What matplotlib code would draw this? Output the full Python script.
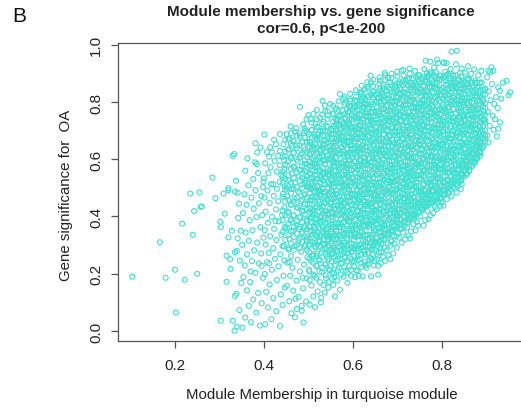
import numpy as np
import matplotlib.pyplot as plt

plt.rcParams['font.family'] = ['Liberation Sans', 'DejaVu Sans']

# module membership / gene significance pairs, in thousandths ("mm gs")
pts_left = """
104 190, 166 310, 179 186, 200 214, 202 065, 222 179, 250 200, 216 375, 240 336,
234 480, 255 484, 243 419, 258 433, 291 464, 284 536, 260 435
"""

pts_030 = """
309 480, 320 492, 337 525, 302 382, 303 363, 316 172, 303 036, 330 036, 339 015,
334 001, 335 123, 338 130, 345 073, 325 217, 324 251, 320 327, 328 350, 348 350,
341 324, 339 280, 335 275, 346 246, 349 168, 333 618, 330 612, 320 499, 335 487,
316 263, 341 483, 312 410, 344 445, 342 395
"""

pts_035 = """
352 012, 358 047, 371 031, 366 088, 383 064, 391 019, 376 110, 362 142, 387 133,
395 097, 354 188, 369 171, 381 203, 398 186, 357 229, 373 244, 389 236, 362 268,
378 282, 394 271, 351 301, 366 315, 385 309, 399 326, 359 344, 374 352, 392 363,
368 387, 383 398, 353 412, 396 405, 377 427, 361 441, 389 446, 372 466, 356 478,
394 471, 381 492, 365 509, 398 503, 376 531, 387 552, 358 560, 380 589, 384 583,
381 656, 385 624, 363 603, 392 641, 399 522, 370 208, 395 228
"""

pts_040 = """
403 024, 417 041, 436 018, 428 069, 409 082, 442 091, 421 115, 405 137, 438 128,
447 152, 413 163, 429 178, 402 199, 444 193, 418 214, 433 226, 407 241, 425 252,
446 247, 411 273, 437 268, 421 289, 404 302, 445 296, 428 318, 414 331, 439 336,
402 352, 423 357, 447 364, 409 378, 433 383, 418 399, 441 404, 404 417, 427 425,
446 432, 413 447, 432 453, 401 466, 422 472, 443 479, 408 491, 429 497, 447 506,
416 513, 435 521, 400 533, 421 513, 442 538, 410 551, 429 557, 446 563, 415 572,
436 579, 403 586, 424 594, 445 598, 412 609, 432 612, 447 612, 418 624, 414 642,
436 630, 427 653, 444 653, 436 688, 401 686, 423 668, 407 625, 439 545, 426 384,
412 236
"""

pts_045 = """
470 048, 474 077, 485 088, 485 071, 489 030, 462 062, 457 104, 478 119, 495 103,
466 141, 452 158, 488 149, 473 176, 459 193, 496 184, 481 208, 464 221, 453 239,
490 232, 476 249, 461 262, 498 258, 484 277, 456 284, 469 296, 493 301, 478 314,
458 322, 497 327, 485 341, 466 349, 452 358, 491 362, 474 371, 460 386, 497 385,
482 397, 467 404, 455 417, 489 419, 476 431, 461 441, 498 443, 484 454, 469 462,
453 471, 493 478, 477 487, 462 496, 499 502, 486 511, 470 519, 455 527, 491 533,
478 541, 463 549, 497 556, 484 563, 468 571, 453 578, 492 584, 476 592, 461 603,
498 607, 483 616, 467 623, 454 634, 489 641, 474 648, 466 665, 463 647, 496 662,
482 675, 470 696, 481 682, 493 699, 460 715, 488 722, 496 740, 500 754, 481 783,
451 688, 472 709, 457 671, 494 526, 451 498, 479 356, 458 241, 487 186, 471 113
"""

pts_050 = """
515 083, 528 100, 537 135, 534 161, 503 092, 511 121, 521 138, 545 152, 507 159,
526 171, 540 184, 514 193, 502 208, 531 206, 548 213, 518 227, 537 233, 506 246,
524 251, 543 259, 511 268, 530 274, 549 283, 516 291, 501 297, 535 302, 522 313,
546 318, 508 327, 527 336, 541 341, 514 352, 533 359, 502 366, 548 371, 519 379,
537 388, 506 394, 525 401, 544 406, 512 417, 531 422, 549 429, 517 436, 503 445,
536 447, 522 457, 541 462, 509 469, 528 474, 547 483, 514 489, 533 496, 502 503,
521 508, 545 514, 509 522, 527 529, 539 536, 516 543, 504 551, 533 556, 548 561,
521 569, 507 576, 538 582, 525 589, 512 596, 546 601, 531 609, 503 614, 518 621,
540 627, 527 634, 511 642, 549 646, 534 653, 505 659, 520 667, 543 672, 528 679,
513 686, 547 691, 532 698, 508 703, 523 711, 541 717, 516 724, 534 731, 511 758,
532 804, 537 787, 549 793, 526 745, 544 752, 519 772, 505 741, 538 768, 501 687,
546 545, 524 486, 509 409, 542 334, 518 262, 503 178, 529 116
"""

pts_055 = """
560 121, 556 161, 553 182, 571 144, 588 168, 565 177, 579 189, 596 193, 558 202,
584 211, 569 219, 551 227, 592 226, 576 238, 561 246, 599 244, 583 255, 567 262,
554 271, 590 272, 574 281, 559 289, 597 291, 581 299, 566 306, 552 314, 588 317,
573 323, 557 331, 595 334, 579 341, 563 349, 551 356, 586 357, 571 364, 598 369,
555 373, 578 379, 592 386, 562 392, 584 398, 569 405, 553 411, 597 413, 576 419,
559 426, 589 431, 566 437, 581 443, 552 449, 594 452, 573 459, 558 466, 587 469,
564 476, 599 479, 578 485, 553 492, 591 496, 569 503, 583 509, 556 516, 597 518,
574 525, 561 532, 589 538, 567 545, 552 551, 584 556, 596 563, 571 567, 558 574,
587 579, 576 586, 554 592, 593 597, 563 604, 581 609, 598 617, 570 621, 556 628,
588 633, 575 640, 561 647, 594 651, 580 658, 566 664, 553 671, 591 676, 577 683,
562 689, 599 694, 585 701, 571 707, 557 714, 592 719, 578 726, 564 733, 597 739,
583 745, 569 752, 555 760, 590 764, 576 771, 562 778, 594 786, 571 828, 579 810,
594 810, 582 797, 566 741, 588 612, 573 431, 557 587, 598 351
"""

pts_060 = """
605 188, 613 193, 622 191, 641 191, 616 251, 627 269, 639 257, 608 212, 631 221,
647 229, 619 236, 603 243, 636 247, 611 262, 644 268, 624 281, 606 287, 638 293,
617 301, 649 304, 629 312, 602 318, 643 324, 614 331, 633 337, 621 346, 648 351,
607 356, 637 362, 625 369, 612 377, 645 381, 631 387, 618 394, 603 399, 640 404,
627 411, 611 416, 649 421, 634 427, 619 433, 606 440, 642 444, 626 451, 614 456,
647 461, 632 467, 603 472, 620 478, 639 483, 609 489, 626 494, 645 499, 615 505,
631 511, 604 516, 648 520, 622 526, 637 532, 611 538, 628 543, 644 549, 606 554,
619 560, 634 566, 649 571, 612 576, 627 582, 641 588, 603 593, 618 599, 636 604,
646 610, 609 615, 624 621, 639 627, 615 633, 601 638, 631 643, 647 648, 613 654,
627 660, 642 665, 606 671, 621 677, 637 682, 648 688, 611 693, 625 699, 640 704,
604 710, 618 716, 633 721, 646 727, 610 733, 623 738, 638 744, 602 750, 616 755,
631 761, 645 766, 609 772, 624 778, 637 783, 614 789, 628 795, 643 800, 607 806,
621 812, 635 817, 648 823, 616 834, 627 845, 640 892, 641 869, 633 853, 646 838,
619 827, 603 781, 642 735, 626 590, 612 458, 638 375, 605 338, 644 285, 629 229
"""

pts_065 = """
657 197, 657 228, 654 251, 684 251, 680 265, 699 292, 684 298, 663 238, 672 245,
691 271, 668 259, 659 273, 676 281, 694 305, 662 289, 687 312, 671 318, 655 327,
698 331, 680 336, 664 343, 689 349, 673 356, 657 362, 696 366, 682 372, 666 378,
651 385, 691 389, 675 395, 660 401, 699 405, 684 411, 668 417, 653 423, 693 427,
678 433, 662 439, 688 444, 671 450, 656 456, 697 460, 681 466, 665 472, 650 478,
690 482, 674 488, 659 494, 699 498, 683 504, 667 510, 652 516, 692 520, 677 526,
661 532, 686 537, 670 543, 655 549, 695 553, 679 559, 664 565, 689 570, 673 576,
658 582, 698 586, 682 592, 667 598, 652 604, 692 608, 676 614, 661 620, 685 625,
670 631, 655 637, 696 641, 680 647, 665 653, 690 658, 674 664, 659 670, 699 674,
683 680, 668 686, 653 692, 693 696, 677 702, 662 708, 687 713, 671 719, 656 725,
696 729, 681 735, 666 741, 690 746, 675 752, 660 758, 699 762, 684 768, 669 774,
654 780, 694 784, 678 790, 663 796, 688 801, 672 807, 657 813, 697 817, 681 823,
666 829, 691 834, 676 840, 661 846, 684 869, 661 874, 672 901, 669 858, 695 852,
679 884, 688 578, 663 448, 694 415, 671 369, 657 305, 686 522
"""

pts_070 = """
729 324, 725 333, 736 374, 747 368, 710 309, 718 321, 704 326, 741 352, 713 344,
731 348, 706 358, 722 362, 744 381, 709 373, 727 386, 738 391, 715 397, 701 402,
732 408, 748 413, 719 419, 705 424, 737 430, 724 436, 711 441, 745 446, 730 452,
716 458, 702 463, 739 468, 725 474, 712 480, 748 485, 734 490, 720 496, 706 501,
742 506, 728 512, 714 518, 700 523, 736 528, 721 534, 708 539, 745 544, 731 550,
717 556, 703 561, 739 566, 726 572, 712 577, 748 582, 734 588, 719 594, 705 599,
741 604, 727 610, 713 615, 702 620, 737 626, 723 631, 709 636, 746 642, 732 648,
718 653, 704 658, 740 664, 725 669, 711 674, 747 680, 733 686, 720 691, 706 696,
742 702, 728 707, 714 712, 700 718, 736 723, 722 729, 709 734, 744 739, 730 745,
716 750, 703 756, 739 761, 725 766, 711 772, 748 777, 734 783, 719 788, 705 794,
741 799, 727 804, 713 810, 701 815, 737 820, 723 826, 709 832, 745 837, 731 842,
717 848, 740 868, 710 909, 740 909, 747 894, 726 884, 704 862, 733 858, 719 876,
744 853, 707 845, 729 541, 714 462, 738 405, 723 613, 746 724
"""

pts_075 = """
759 368, 770 391, 789 426, 774 404, 763 388, 781 412, 796 437, 752 401, 768 419,
785 433, 757 422, 792 450, 775 446, 761 438, 799 461, 783 457, 766 462, 751 449,
788 473, 772 477, 756 468, 795 484, 779 490, 764 494, 753 486, 790 502, 774 508,
758 512, 797 517, 782 522, 767 527, 752 533, 786 538, 771 543, 755 548, 793 552,
778 558, 762 563, 798 567, 784 573, 768 578, 753 584, 789 588, 774 594, 759 599,
795 603, 780 609, 765 614, 750 619, 786 623, 771 629, 756 634, 792 638, 777 644,
762 649, 798 653, 783 659, 768 664, 753 670, 789 674, 774 679, 759 684, 795 689,
780 694, 765 700, 751 705, 786 709, 771 715, 756 720, 792 724, 777 730, 762 735,
798 740, 783 745, 768 750, 754 756, 789 760, 774 765, 759 771, 795 776, 780 781,
765 786, 751 791, 786 796, 771 801, 756 807, 792 811, 777 817, 762 822, 798 826,
783 832, 768 837, 753 842, 789 847, 774 852, 759 858, 795 862, 780 868, 765 873,
787 904, 774 904, 764 944, 774 941, 790 948, 792 936, 785 885, 769 891, 756 879,
797 891, 761 915, 783 921, 776 609, 758 557, 791 531, 767 476, 752 650, 794 705
"""

pts_080 = """
804 438, 811 461, 834 484, 843 496, 845 513, 841 525, 800 450, 822 471, 815 482,
806 476, 829 498, 818 505, 836 509, 803 495, 824 519, 812 527, 838 538, 847 544,
808 541, 826 548, 817 556, 834 562, 802 567, 846 571, 823 577, 811 583, 839 589,
828 595, 805 601, 849 604, 816 608, 833 614, 821 621, 808 627, 844 630, 826 636,
813 642, 837 647, 801 652, 848 656, 819 661, 830 667, 807 672, 842 677, 824 683,
814 688, 836 693, 802 698, 847 702, 820 708, 831 713, 809 719, 843 723, 826 729,
815 734, 838 739, 804 745, 849 749, 821 755, 832 760, 811 765, 844 770, 827 776,
816 781, 839 786, 803 791, 848 795, 822 801, 834 806, 812 812, 845 816, 828 822,
817 827, 840 833, 806 838, 849 842, 823 848, 833 853, 810 859, 846 863, 829 869,
818 874, 837 880, 805 885, 826 891, 814 897, 841 902, 832 932, 805 936, 822 976,
834 979, 804 938, 811 936, 820 915, 845 917, 808 906, 828 856, 801 600, 819 639,
842 745
"""

pts_085 = """
867 577, 886 612, 894 647, 855 545, 862 559, 851 562, 873 588, 858 584, 879 601,
866 605, 853 598, 884 624, 871 627, 857 621, 891 639, 876 645, 862 643, 851 637,
883 661, 869 664, 855 659, 897 671, 888 678, 874 684, 860 681, 892 697, 878 702,
864 700, 852 694, 885 716, 870 720, 856 718, 898 728, 881 734, 867 739, 853 735,
890 752, 875 758, 861 756, 895 768, 882 775, 868 779, 854 773, 887 792, 872 796,
858 794, 893 808, 879 815, 864 817, 851 812, 886 830, 871 834, 857 839, 897 847,
883 852, 868 857, 854 861, 890 868, 875 874, 860 880, 882 893, 866 898, 853 903,
873 914, 859 925, 889 909, 861 852, 877 690, 895 737, 869 747, 863 632
"""

pts_090 = """
912 921, 916 909, 909 904, 946 874, 954 834, 950 824, 927 851, 931 839, 931 729,
927 706, 924 680, 920 740, 905 909, 903 683, 908 717, 915 752, 904 766, 918 793,
910 806, 922 817, 906 837, 913 863, 934 812, 926 779, 938 868, 902 886, 917 703,
905 659
"""

# dense core of the turquoise module: "mm: gs gs gs ..." (thousandths)
core_cols = """
503: 303 321 348 363 394 416 428 457 481 498 531 551 577 591 619 642 661
508: 311 336 350 380 399 422 456 469 496 517 533 562 586 604 636 651 677
515: 296 309 338 360 377 411 431 456 471 502 521 545 572 584 614 635 653 679
520: 300 331 347 371 391 404 432 467 484 506 532 546 576 595 620 641 673 688
526: 294 316 328 357 381 398 431 451 477 491 519 542 561 591 607 632 653 671 698
533: 305 318 345 366 382 411 435 453 485 500 526 548 568 596 613 638 652 682 701
538: 289 304 335 354 378 405 417 447 468 486 512 535 551 584 597 626 648 665 699
544: 297 317 330 358 393 410 432 458 472 502 521 546 567 599 614 641 659 682 713
551: 286 306 332 346 374 397 416 446 462 487 508 526 553 568 599 621 633 662 686 703
556: 292 322 341 364 398 411 438 459 475 504 528 546 578 593 619 641 661 689 706 731
562: 284 318 338 363 378 409 428 452 479 491 521 542 560 586 609 625 658 671 700 722 739
569: 296 313 335 361 375 405 424 449 470 502 517 544 562 585 616 632 656 676 689 717 752
574: 283 302 332 348 373 394 412 439 454 485 507 519 548 572 589 622 642 668 682 710 733 751
580: 289 307 339 354 380 402 422 450 467 492 506 531 545 575 594 617 651 664 691 712 728 757
587: 298 325 337 367 388 406 432 455 471 504 517 546 568 585 619 639 664 679 710 729 753 776
592: 285 306 338 353 380 398 421 452 468 492 523 539 563 583 596 624 659 676 698 724 738 767 785
598: 291 306 337 359 371 400 424 441 474 494 520 534 562 585 604 634 650 675 696 714 741 756 787
605: 295 329 342 369 390 406 435 459 477 509 524 550 572 592 620 637 662 676 701 715 745 764 787
610: 288 301 330 352 369 403 423 448 463 494 513 537 564 576 606 627 645 671 694 710 743 756 785 805
616: 302 333 349 373 393 406 434 469 486 508 534 548 578 597 622 643 675 690 717 735 758 789 805
623: 293 317 334 367 387 413 427 455 478 497 527 543 568 589 607 634 649 680 702 714 743 767 784 817
628: 298 319 335 364 388 406 438 453 479 501 521 549 566 591 605 630 644 674 693 716 750 763 790 811
634: 296 321 336 367 386 410 437 449 479 500 518 544 567 583 616 629 658 680 697 731 751 776 791 822
641: 307 335 370 387 409 435 449 479 498 523 544 576 591 618 636 659 690 706 730 750 763 791 826
646: 300 314 342 365 384 414 430 455 476 494 521 536 567 589 601 630 654 671 704 724 750 764 792 815 834
652: 309 324 350 372 392 420 437 462 476 501 515 545 564 587 621 634 661 682 698 727 751 769 801 826
659: 312 345 358 387 409 426 460 480 505 520 551 570 594 621 633 663 684 702 728 751 767 800 813 840
664: 318 332 362 381 406 427 459 474 501 519 542 573 589 613 633 646 674 709 726 748 774 788 818 837
670: 322 339 372 390 417 432 463 485 497 526 550 567 600 620 646 660 688 711 730 760 776 801 822 848
677: 334 359 373 403 422 445 479 492 519 540 556 585 609 627 659 674 700 722 742 770 787 812 826 852
682: 341 358 392 412 437 452 483 502 526 553 565 595 616 634 660 683 699 732 745 774 796 813 847
688: 347 379 394 421 439 462 493 509 533 553 566 594 629 646 668 694 708 738 757 782 803 835 858
695: 355 386 408 420 449 473 490 523 543 569 583 611 634 653 683 699 724 745 763 790 805 836 860
700: 362 389 410 426 455 479 497 529 544 570 592 612 640 657 682 696 726 745 768 802 815 842 866
706: 371 390 414 441 453 483 504 522 548 571 587 620 633 662 684 701 735 755 780 795 826 845 869
713: 378 402 422 435 463 498 515 537 563 577 607 626 651 672 704 719 746 764 787 818 834 858 873
718: 383 416 436 462 476 504 527 546 576 592 617 638 656 683 698 729 751 763 792 816 833 866
724: 390 408 440 455 481 503 523 551 568 593 607 632 646 676 695 718 752 765 792 813 829 858 878
731: 396 409 438 460 477 511 531 556 571 602 621 645 672 684 714 735 753 779 802 818 851 864
736: 404 426 452 466 496 515 540 561 593 608 635 653 676 707 723 747 767 780 808 843 860 882
742: 411 438 453 484 506 518 547 571 588 621 641 667 681 709 732 751 781 797 822 843 861 888
749: 419 441 461 489 506 531 545 575 594 617 651 664 691 712 728 757 781 799 831 846 872 894
754: 426 455 477 494 528 548 573 588 619 638 662 689 701 731 752 770 796 819 835 868 881
760: 431 446 473 491 514 545 561 585 605 618 646 681 698 720 746 760 790 809 834 855 887
767: 437 449 478 502 519 552 572 598 612 640 663 682 712 728 753 774 792 819 834 865 887 899
772: 443 462 485 519 532 559 580 596 625 649 667 699 714 740 762 782 810 827 852 866 896
778: 449 461 491 512 530 556 579 595 628 641 670 692 709 743 763 788 803 834 853 877 900
785: 453 476 507 523 547 567 580 608 643 660 682 708 722 752 771 796 817 849 864 891
790: 460 483 502 532 548 573 594 612 639 654 685 707 719 748 772 789 822 842 868 882
796: 464 493 517 535 567 582 608 630 650 678 695 720 734 759 773 803 822 845 879 892
803: 474 489 520 539 563 590 602 632 653 671 697 720 736 769 782 811 833 850 884
808: 480 493 521 556 573 595 621 635 665 684 709 730 762 777 804 822 845 876 892
814: 487 508 526 553 568 599 621 633 662 686 703 736 756 782 796 824 847 866 896
821: 494 520 542 562 590 607 632 646 671 685 715 734 757 791 804 831 852 868 897
826: 503 527 554 566 596 617 635 661 684 700 733 746 775 797 814 848 868 893
832: 511 537 551 581 600 625 646 678 693 720 738 761 792 808 832 852 865 893
839: 519 537 564 579 610 632 644 673 697 714 747 767 793 807 835 858 877
844: 527 550 584 597 624 645 661 690 714 732 764 779 805 827 847 875 889
850: 538 557 581 608 620 650 671 689 715 738 754 787 800 829 851 868
857: 551 567 591 611 624 652 687 704 726 752 766 796 815 840 861 882
862: 562 579 612 632 658 672 700 723 742 772 788 813 834 852 879
868: 576 589 616 637 653 682 706 724 756 771 797 819 839 867
875: 590 608 634 657 673 706 719 748 770 787 821 841 866
880: 604 620 644 664 677 705 740 757 779 805 819 849 868
886: 621 647 661 689 712 731 761 777 802 823 841 868
893: 642 674 689 715 737 757 785 802 827 841
898: 662 684 701 735 755 780 795 826 845
"""

# thinner ring of genes around the core
fringe_cols = """
442: 297 346 388 421 469 517 556 608
448: 318 359 404 452 493 531 581 627 668
455: 289 336 376 413 458 506 544 594 634 671
461: 306 349 391 442 481 518 566 609 654 692
467: 284 328 365 404 451 497 535 574 621 664
474: 301 341 384 431 466 503 553 599 638 683
480: 290 322 364 398 436 483 524 564 606 649 690
486: 311 346 379 417 459 499 536 576 621 661
492: 296 331 367 409 443 476 517 559 596 633 675 708
497: 283 319 356 389 424 466 506 541 583 624 658 694
502: 214 253 276
511: 197 238 262
518: 186 229 271
525: 208 247
531: 221 259 284
539: 194 236 269
546: 172 215 251 277
553: 204 243 268
559: 188 229 262
566: 211 251 279
573: 197 236 266
581: 223 259 281
588: 205 244 273
596: 214 252 278
603: 226 262 287
611: 209 248 281
619: 223 266 291
627: 241 277
634: 234 271 298
642: 252 286 311
649: 244 283 309
656: 263 297
664: 278 306
671: 291 334
679: 305 341
686: 318 351
693: 332 368
701: 341 377
709: 356 389
716: 367 398
724: 379 412
732: 392 421
740: 401 436
748: 414 447
756: 426 455
764: 437 468
772: 448 476
780: 459 487
788: 468 495
797: 479 506
805: 489 517
813: 498 528
821: 509 541
829: 521 553
837: 533 566
846: 547 579
854: 562 594
862: 577 607
871: 593 621
879: 609 638
887: 626 655
507: 702 728
519: 713 739
531: 724 756
543: 741 768
556: 757 786
568: 773 802
581: 789 818
594: 804 829
607: 818 841
620: 834 857
633: 847 869
646: 856 878
660: 864 886
673: 877 893
687: 884 899
700: 889 906
714: 893 912
728: 899 917
"""

groups = [pts_left, pts_030, pts_035, pts_040, pts_045, pts_050, pts_055,
          pts_060, pts_065, pts_070, pts_075, pts_080, pts_085, pts_090]


def read_pairs(txt):
    # "x y, x y, ..." -> two float arrays
    vals = [p.split() for p in txt.replace("\n", " ").split(",") if p.strip()]
    arr = np.array(vals, dtype=float) / 1000.0
    return arr[:, 0], arr[:, 1]


def read_cols(txt):
    # "x: y y y" per line -> two float arrays
    xs, ys = [], []
    for line in txt.strip().splitlines():
        x, rest = line.split(":")
        for y in rest.split():
            xs.append(float(x))
            ys.append(float(y))
    return np.array(xs) / 1000.0, np.array(ys) / 1000.0


def main():
    mm = []
    gs = []
    for g in groups:
        x, y = read_pairs(g)
        mm.append(x)
        gs.append(y)
    for c in (fringe_cols, core_cols):
        x, y = read_cols(c)
        mm.append(x)
        gs.append(y)
    mm = np.concatenate(mm)
    gs = np.concatenate(gs)

    W, H = 521, 410
    fig = plt.figure(figsize=(W / 100, H / 100), dpi=100)
    # plot box in pixels: left 117.7, right 525.7 (just past the edge), top 44, bottom 342
    ax = fig.add_axes([117.7 / W, (H - 342) / H, 408 / W, 298 / H])

    ax.scatter(mm, gs, s=13, facecolors="none", edgecolors="#40E0D0",
               linewidths=0.8)

    ax.set_xlim(0.0711, 0.989)
    ax.set_ylim(-0.0349, 1.006)

    ax.set_xticks([0.2, 0.4, 0.6, 0.8])
    ax.set_xticklabels(["0.2", "0.4", "0.6", "0.8"])
    ax.set_yticks([0.0, 0.2, 0.4, 0.6, 0.8, 1.0])
    ax.set_yticklabels(["0.0", "0.2", "0.4", "0.6", "0.8", "1.0"],
                       rotation=90, va="center")

    for s in ax.spines.values():
        s.set_color("#555555")
        s.set_linewidth(0.9)
    ax.tick_params(axis="both", direction="out", length=5, width=0.9,
                   color="#555555", labelsize=11, labelcolor="#222222")
    ax.tick_params(axis="x", pad=7)
    ax.tick_params(axis="y", pad=5.5)

    fig.text(321.7 / W, 1 - 395.5 / H, "Module Membership in turquoise module",
             ha="center", va="center", fontsize=10.8, color="#222222")
    fig.text(66 / W, 1 - 195 / H, "Gene significance for  OA", rotation=90,
             ha="center", va="center", fontsize=10.8, color="#222222")

    fig.text(321 / W, 1 - 12 / H, "Module membership vs. gene significance",
             ha="center", va="center", fontsize=11, fontweight="bold",
             color="#222222")
    fig.text(321 / W, 1 - 28.5 / H, "cor=0.6, p<1e-200",
             ha="center", va="center", fontsize=11, fontweight="bold",
             color="#222222")

    fig.text(12 / W, 1 - 16 / H, "B", ha="left", va="center", fontsize=15,
             color="#111111")

    fig.savefig("out.png", dpi=100)


if __name__ == "__main__":
    main()
